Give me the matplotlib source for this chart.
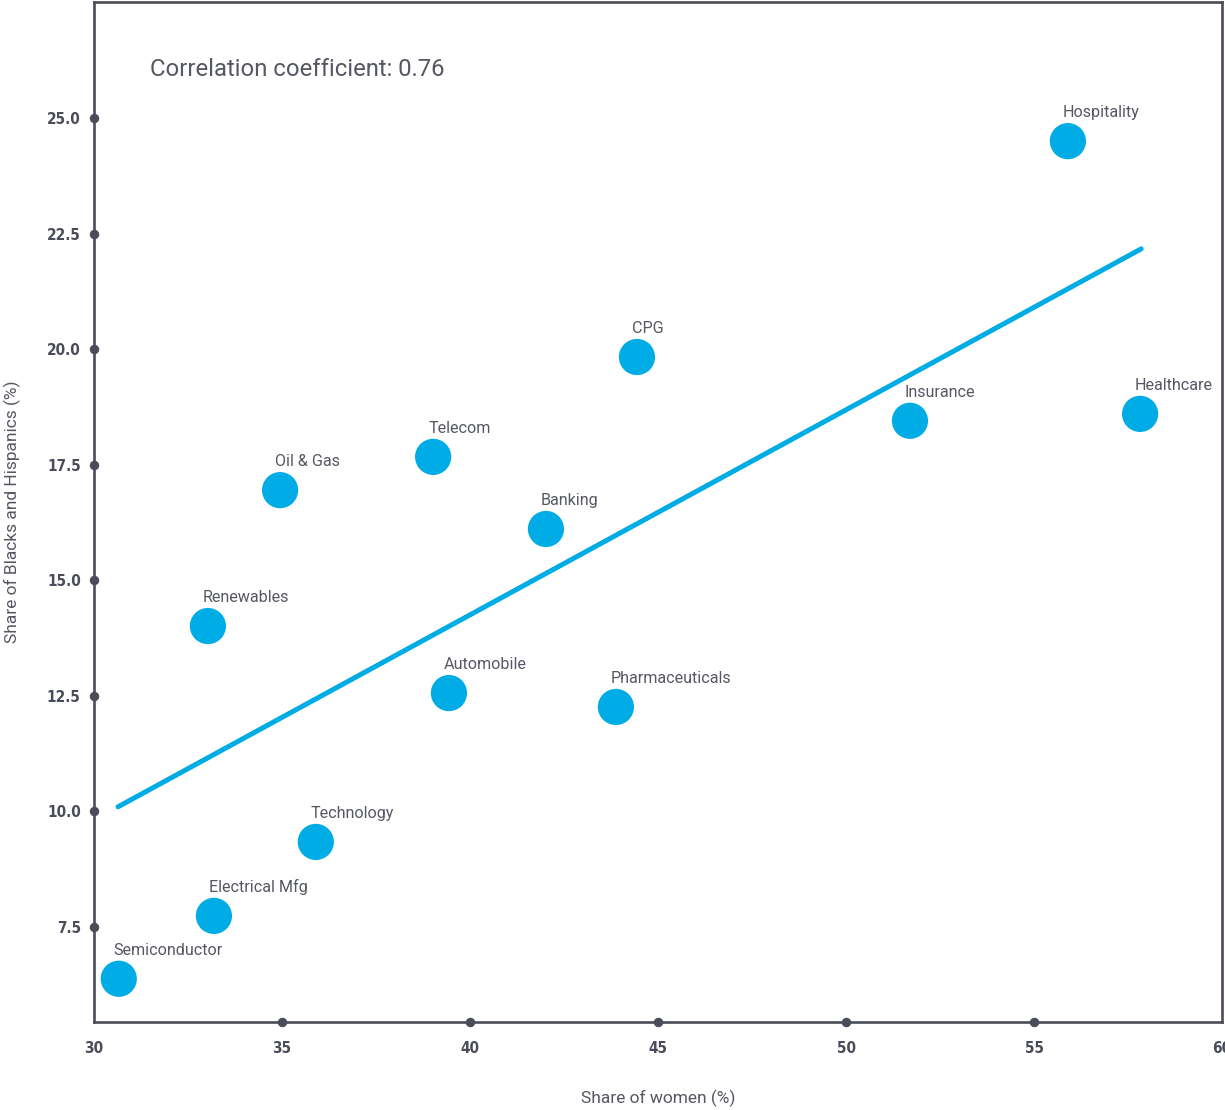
import matplotlib.pyplot as plt

industries = ['Semiconductor', 'Electrical Mfg', 'Technology', 'Renewables', 'Oil & Gas',
              'Telecom', 'Automobile', 'Banking', 'Pharmaceuticals', 'CPG', 'Insurance',
              'Hospitality', 'Healthcare']
share_women = [30.66, 33.19, 35.90, 33.03, 34.95, 39.02, 39.44, 42.02, 43.88, 44.44, 51.70, 55.90, 57.82]
share_bh = [6.38, 7.74, 9.34, 14.01, 16.95, 17.67, 12.56, 16.11, 12.26, 19.83, 18.45, 24.50, 18.60]

trend_x = [30.64, 57.85]
trend_y = [10.10, 22.17]

x_ticks = [30, 35, 40, 45, 50, 55, 60]
y_ticks = [7.5, 10.0, 12.5, 15.0, 17.5, 20.0, 22.5, 25.0]

blue = '#00ace6'
dark = '#4a4d59'
grey_text = '#555862'

plt.rcParams['font.family'] = ['Roboto', 'DejaVu Sans']

fig = plt.figure(figsize=(12.25, 11.10), dpi=100)
ax = fig.add_axes([0.0767, 0.0793, 0.9209, 0.9189])

ax.plot(trend_x, trend_y, color=blue, linewidth=3.6, solid_capstyle='round', zorder=2)
ax.scatter(share_women, share_bh, s=680, color=blue, edgecolors='none', zorder=3)

for name, x, y in zip(industries, share_women, share_bh):
    ax.annotate(name, (x, y), xytext=(-3.6, 20.5), textcoords='offset points',
                ha='left', va='center', fontsize=11.6, color=grey_text)

ax.annotate('Correlation coefficient: 0.76', xy=(0, 1), xycoords='axes fraction',
            xytext=(40.5, -48.5), textcoords='offset points',
            ha='left', va='center', fontsize=17.2, color=grey_text)

ax.set_xlim(30, 60)
ax.set_ylim(5.445, 27.51)
ax.set_xticks(x_ticks)
ax.set_yticks(y_ticks)
ax.set_yticklabels(['%.1f' % v for v in y_ticks])

tick_font = dict(family='DejaVu Sans', stretch='condensed', weight='bold', size=11)
for lab in ax.get_xticklabels() + ax.get_yticklabels():
    lab.set_fontproperties(tick_font)
    lab.set_color(dark)
ax.tick_params(axis='x', length=0, pad=13.5)
ax.tick_params(axis='y', length=0, pad=9.5)

# round dots on the axis lines at each inner tick
for tick in ax.xaxis.get_major_ticks()[1:-1] + ax.yaxis.get_major_ticks():
    tick.tick1line.set_marker('o')
    tick.tick1line.set_markersize(6)
    tick.tick1line.set_markerfacecolor(dark)
    tick.tick1line.set_markeredgecolor(dark)

for sp in ax.spines.values():
    sp.set_color(dark)
    sp.set_linewidth(1.9)

ax.set_xlabel('Share of women (%)', fontsize=12.5, color=grey_text, va='center')
ax.set_ylabel('Share of Blacks and Hispanics (%)', fontsize=12.5, color=grey_text, va='center')
ax.xaxis.set_label_coords(0.5, -76 / 1020)
ax.yaxis.set_label_coords(-82 / 1128, 0.5)

fig.savefig('out.png', dpi=100)
